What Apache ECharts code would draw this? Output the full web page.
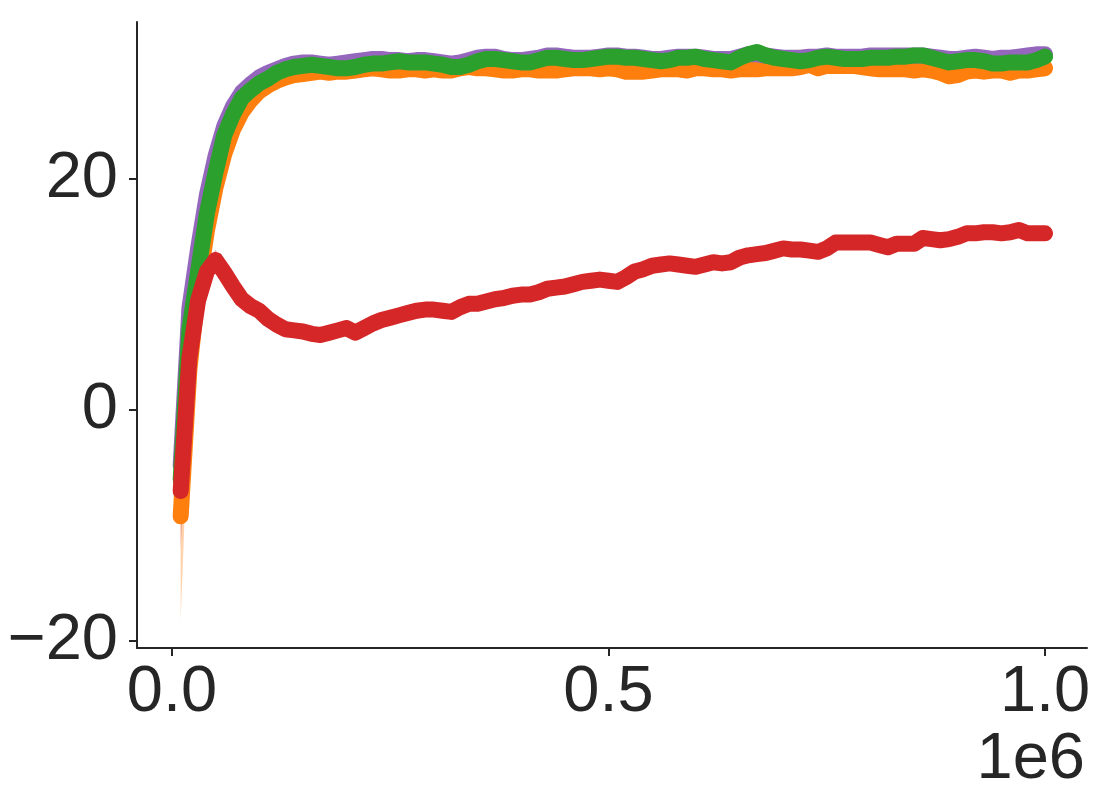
<!DOCTYPE html>
<html>
<head>
<meta charset="utf-8">
<script src="https://cdn.jsdelivr.net/npm/echarts@6/dist/echarts.min.js"></script>
<style>
  html, body { margin: 0; padding: 0; background: #ffffff; }
  #chart { width: 1096px; height: 808px; }
</style>
</head>
<body>
<div id="chart"></div>
<script>
// ---- data (x in units of 1e4 environment steps) ----
const STEP_UNIT = 10000;
const stepIdx = Array.from({length: 100}, (_, i) => i + 1);

const purpleVals = [-4.8, 8.8, 14.0, 18.6, 22.0, 24.6, 26.3, 27.5, 28.2, 28.8, 29.2, 29.5, 29.8,
  30.0, 30.1, 30.1, 30.0, 29.9, 30.0, 30.1, 30.2, 30.3, 30.4, 30.4, 30.3, 30.3, 30.2, 30.3, 30.3,
  30.2, 30.1, 30.0, 30.1, 30.3, 30.5, 30.6, 30.6, 30.4, 30.3, 30.3, 30.4, 30.5, 30.7, 30.7, 30.6,
  30.5, 30.5, 30.5, 30.6, 30.7, 30.7, 30.6, 30.6, 30.5, 30.4, 30.4, 30.5, 30.6, 30.6, 30.6, 30.5,
  30.4, 30.4, 30.4, 30.6, 30.8, 30.8, 30.7, 30.6, 30.5, 30.5, 30.5, 30.6, 30.6, 30.7, 30.6, 30.6,
  30.6, 30.6, 30.7, 30.7, 30.7, 30.7, 30.7, 30.7, 30.7, 30.6, 30.5, 30.4, 30.4, 30.5, 30.6, 30.5,
  30.4, 30.5, 30.5, 30.6, 30.7, 30.8, 30.8];

const orangeVals = [-9.2, 3.5, 10.5, 15.5, 19.3, 22.2, 24.3, 25.8, 26.8, 27.6, 28.1, 28.5, 28.8,
  29.0, 29.1, 29.2, 29.3, 29.2, 29.3, 29.3, 29.4, 29.5, 29.6, 29.5, 29.4, 29.4, 29.5, 29.5, 29.4,
  29.5, 29.4, 29.4, 29.6, 29.7, 29.6, 29.6, 29.5, 29.4, 29.4, 29.5, 29.5, 29.4, 29.4, 29.4, 29.5,
  29.6, 29.6, 29.6, 29.5, 29.6, 29.5, 29.3, 29.3, 29.3, 29.4, 29.5, 29.5, 29.5, 29.4, 29.6, 29.6,
  29.5, 29.5, 29.4, 29.5, 29.5, 29.5, 29.6, 29.6, 29.6, 29.6, 29.7, 29.9, 29.6, 29.8, 29.8, 29.8,
  29.8, 29.7, 29.6, 29.5, 29.5, 29.5, 29.5, 29.4, 29.5, 29.4, 29.2, 28.9, 29.0, 29.3, 29.4, 29.3,
  29.4, 29.4, 29.2, 29.4, 29.4, 29.5, 29.6];

const greenVals = [-6.0, 7.0, 12.0, 17.0, 20.6, 23.8, 25.6, 27.0, 27.7, 28.3, 28.7, 29.2, 29.5,
  29.7, 29.8, 29.9, 29.8, 29.7, 29.6, 29.6, 29.7, 29.9, 30.0, 30.0, 30.1, 30.2, 30.1, 30.1, 30.1,
  30.0, 29.9, 29.7, 29.7, 29.9, 30.2, 30.4, 30.4, 30.3, 30.2, 30.1, 30.1, 30.3, 30.5, 30.5, 30.4,
  30.3, 30.3, 30.4, 30.5, 30.6, 30.6, 30.5, 30.5, 30.4, 30.3, 30.2, 30.3, 30.5, 30.5, 30.6, 30.4,
  30.3, 30.2, 30.1, 30.5, 30.8, 31.0, 30.7, 30.5, 30.4, 30.3, 30.2, 30.3, 30.5, 30.6, 30.5, 30.4,
  30.4, 30.4, 30.5, 30.5, 30.5, 30.6, 30.6, 30.7, 30.7, 30.5, 30.3, 30.1, 30.2, 30.3, 30.3, 30.2,
  30.0, 30.0, 30.1, 30.1, 30.1, 30.3, 30.6];

const redVals = [-7.0, 4.5, 9.5, 12.0, 13.0, 11.9, 10.7, 9.6, 9.0, 8.6, 7.9, 7.4, 7.0,
  6.9, 6.8, 6.6, 6.5, 6.7, 6.9, 7.1, 6.7, 7.1, 7.5, 7.8, 8.0, 8.2, 8.4, 8.6, 8.7,
  8.7, 8.6, 8.5, 8.9, 9.2, 9.2, 9.4, 9.6, 9.7, 9.9, 10.0, 10.0, 10.2, 10.5, 10.6, 10.7,
  10.9, 11.1, 11.2, 11.3, 11.2, 11.1, 11.5, 12.0, 12.2, 12.5, 12.6, 12.7, 12.6, 12.5, 12.4, 12.6,
  12.8, 12.7, 12.8, 13.2, 13.4, 13.5, 13.6, 13.8, 14.0, 13.9, 13.9, 13.8, 13.7, 14.0, 14.5, 14.5,
  14.5, 14.5, 14.5, 14.3, 14.1, 14.4, 14.4, 14.4, 14.9, 14.8, 14.7, 14.8, 15.0, 15.3, 15.3, 15.4,
  15.4, 15.3, 15.4, 15.6, 15.3, 15.3, 15.3];

// confidence band (lower, upper) for the first few points, where it is visible
const orangeBandLo = [-18.2, 1.5, 9.6, 15.0, 19.0];
const orangeBandHi = [-7.5, 5.0, 11.2, 16.0, 19.6];
const redBandLo    = [-12.1, 3.6, 9.0, 11.6, 12.5, 11.6];
const redBandHi    = [-5.5, 5.4, 10.0, 12.5, 13.9, 12.3];

const xTicks = [0, 500000, 1000000];
const yTicks = [-20, 0, 20];

const COLORS = { orange: '#ff7f0e', purple: '#9467bd', green: '#2ca02c', red: '#d62728' };
const TXT = '#262626';
const FONT = 'Liberation Sans, Arial, sans-serif';

function pairs(vals) { return vals.map((v, i) => [stepIdx[i] * STEP_UNIT, v]); }

function bandSeries(lo, hi, color) {
  const data = lo.map((l, i) => [stepIdx[i] * STEP_UNIT, l, hi[i]]);
  return {
    type: 'custom',
    silent: true,
    z: 1,
    data: data,
    renderItem: function (params, api) {
      if (params.dataIndex !== 0) return null;
      const pts = [];
      data.forEach(d => pts.push(api.coord([d[0], d[2]])));
      for (let i = data.length - 1; i >= 0; i--) pts.push(api.coord([data[i][0], data[i][1]]));
      return { type: 'polygon', shape: { points: pts }, style: { fill: color, opacity: 0.35 } };
    }
  };
}

function lineSeries(vals, color, z) {
  return {
    type: 'line', data: pairs(vals), showSymbol: false, symbol: 'none', z: z,
    lineStyle: { color: color, width: 16, cap: 'round', join: 'round' },
    itemStyle: { color: color }, animation: false
  };
}

const chart = echarts.init(document.getElementById('chart'), null, { renderer: 'canvas' });
chart.setOption({
  animation: false,
  backgroundColor: '#ffffff',
  grid: { left: 137, top: 22, width: 950, height: 626, containLabel: false },
  xAxis: {
    type: 'value', min: -40000, max: 1048000,
    splitLine: { show: false },
    axisLine: { show: true, onZero: false, lineStyle: { color: TXT, width: 2 } },
    axisTick: { show: true, customValues: xTicks, length: 8, inside: false, lineStyle: { color: TXT, width: 2 } },
    axisLabel: { customValues: xTicks, color: TXT, fontSize: 65, fontFamily: FONT,
      margin: 13, formatter: v => (v / 1e6).toFixed(1) }
  },
  yAxis: {
    type: 'value', min: -20.6, max: 33.6,
    splitLine: { show: false },
    axisLine: { show: true, onZero: false, lineStyle: { color: TXT, width: 2 } },
    axisTick: { show: true, customValues: yTicks, length: 8, inside: false, lineStyle: { color: TXT, width: 2 } },
    axisLabel: { customValues: yTicks, color: TXT, fontSize: 65, fontFamily: FONT,
      margin: 19, formatter: v => String(v).replace('-', '\u2212') }
  },
  graphic: [{
    type: 'text', right: 11, top: 728,
    style: { text: '1e6', fill: TXT, font: '65px "Liberation Sans", Arial, sans-serif' }
  }],
  series: [
    bandSeries(orangeBandLo, orangeBandHi, COLORS.orange),
    bandSeries(redBandLo, redBandHi, COLORS.red),
    lineSeries(orangeVals, COLORS.orange, 2),
    lineSeries(purpleVals, COLORS.purple, 3),
    lineSeries(greenVals, COLORS.green, 4),
    lineSeries(redVals, COLORS.red, 5)
  ]
});
</script>
</body>
</html>
